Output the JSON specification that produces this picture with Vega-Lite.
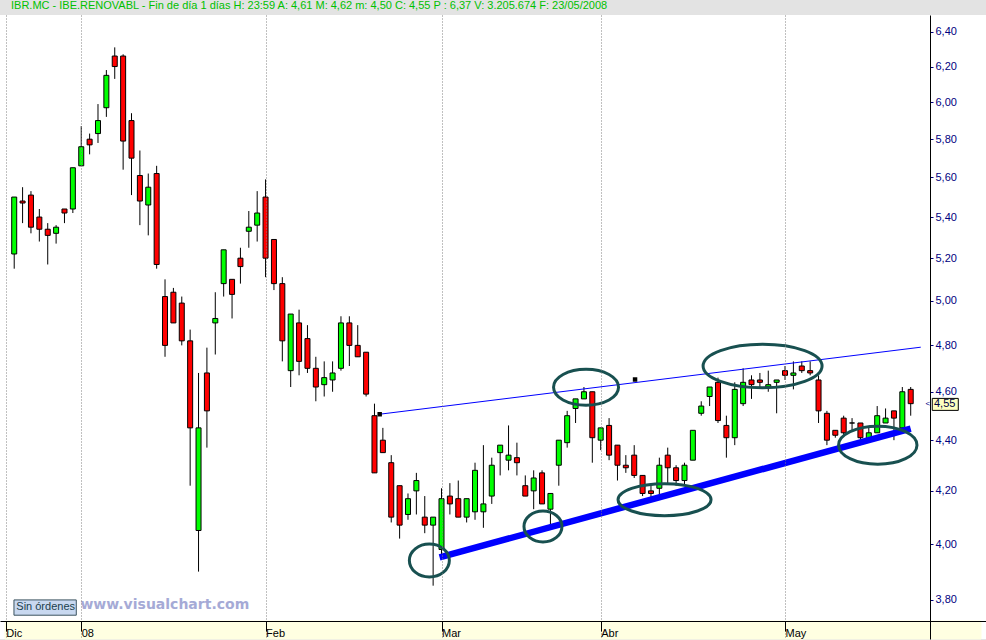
{
  "$schema": "https://vega.github.io/schema/vega-lite/v6.json",
  "width": 986,
  "height": 640,
  "autosize": {"type": "fit", "contains": "padding"},
  "padding": 0,
  "background": "#e3e3e3",
  "config": {"view": {"fill": "white", "stroke": null}},
  "title": {
    "text": "IBR.MC - IBE.RENOVABL - Fin de día 1 días  H: 23:59  A: 4,61  M: 4,62  m: 4,50  C: 4,55  P : 6,37  V: 3.205.674  F: 23/05/2008",
    "anchor": "start",
    "dx": 11,
    "color": "#00c000",
    "font": "Liberation Sans",
    "fontSize": 11,
    "fontWeight": "normal",
    "offset": 4
  },
  "datasets": {
    "notes": [
      {"k": "strip", "t": -1.099, "t2": 115.39, "v": 3.727, "v2": 3.6661},
      {"k": "box", "t": -0.03, "t2": 7.41, "v": 3.80, "v2": 3.747},
      {"k": "last", "t": 109.57, "t2": 112.68, "v": 4.572, "v2": 4.522}
    ],
    "labels": [
      {"k": "box", "label": "Sin órdenes", "t": 0.25, "v": 3.774},
      {"k": "last", "label": "4,55", "t": 109.78, "v": 4.547}
    ]
  },
  "data": {
    "values": [
      {"t":0,"o":5.22,"h":5.50,"l":5.15,"c":5.50},
      {"t":1,"o":5.48,"h":5.55,"l":5.37,"c":5.47},
      {"t":2,"o":5.51,"h":5.53,"l":5.32,"c":5.35},
      {"t":3,"o":5.40,"h":5.44,"l":5.28,"c":5.34},
      {"t":4,"o":5.34,"h":5.37,"l":5.17,"c":5.31},
      {"t":5,"o":5.32,"h":5.36,"l":5.27,"c":5.35},
      {"t":6,"o":5.44,"h":5.44,"l":5.37,"c":5.42},
      {"t":7,"o":5.44,"h":5.65,"l":5.42,"c":5.65},
      {"t":8,"o":5.66,"h":5.87,"l":5.66,"c":5.76},
      {"t":9,"o":5.80,"h":5.83,"l":5.72,"c":5.77},
      {"t":10,"o":5.83,"h":5.99,"l":5.78,"c":5.90},
      {"t":11,"o":5.97,"h":6.18,"l":5.92,"c":6.15},
      {"t":12,"o":6.26,"h":6.31,"l":6.13,"c":6.20},
      {"t":13,"o":6.26,"h":6.27,"l":5.64,"c":5.79},
      {"t":14,"o":5.90,"h":5.94,"l":5.51,"c":5.70},
      {"t":15,"o":5.61,"h":5.74,"l":5.36,"c":5.48},
      {"t":16,"o":5.46,"h":5.62,"l":5.31,"c":5.55},
      {"t":17,"o":5.62,"h":5.66,"l":5.15,"c":5.17},
      {"t":18,"o":5.02,"h":5.10,"l":4.75,"c":4.80},
      {"t":19,"o":5.04,"h":5.06,"l":4.90,"c":4.90},
      {"t":20,"o":4.99,"h":5.02,"l":4.80,"c":4.82},
      {"t":21,"o":4.82,"h":4.87,"l":4.22,"c":4.45},
      {"t":22,"o":4.05,"h":4.68,"l":3.90,"c":4.45},
      {"t":23,"o":4.68,"h":4.79,"l":4.37,"c":4.52},
      {"t":24,"o":4.90,"h":5.04,"l":4.76,"c":4.92},
      {"t":25,"o":5.08,"h":5.24,"l":5.02,"c":5.24},
      {"t":26,"o":5.10,"h":5.10,"l":4.92,"c":5.03},
      {"t":27,"o":5.20,"h":5.25,"l":5.08,"c":5.16},
      {"t":28,"o":5.33,"h":5.43,"l":5.25,"c":5.35},
      {"t":29,"o":5.36,"h":5.53,"l":5.28,"c":5.42},
      {"t":30,"o":5.50,"h":5.59,"l":5.11,"c":5.20},
      {"t":31,"o":5.29,"h":5.29,"l":5.05,"c":5.08},
      {"t":32,"o":5.08,"h":5.11,"l":4.73,"c":4.82},
      {"t":33,"o":4.69,"h":4.94,"l":4.62,"c":4.94},
      {"t":34,"o":4.90,"h":4.96,"l":4.67,"c":4.73},
      {"t":35,"o":4.83,"h":4.89,"l":4.68,"c":4.70},
      {"t":36,"o":4.70,"h":4.75,"l":4.56,"c":4.62},
      {"t":37,"o":4.63,"h":4.73,"l":4.58,"c":4.66},
      {"t":38,"o":4.65,"h":4.73,"l":4.60,"c":4.68},
      {"t":39,"o":4.70,"h":4.93,"l":4.69,"c":4.90},
      {"t":40,"o":4.90,"h":4.93,"l":4.71,"c":4.80},
      {"t":41,"o":4.80,"h":4.89,"l":4.75,"c":4.75},
      {"t":42,"o":4.77,"h":4.77,"l":4.58,"c":4.59},
      {"t":43,"o":4.50,"h":4.55,"l":4.27,"c":4.27},
      {"t":44,"o":4.40,"h":4.45,"l":4.35,"c":4.35},
      {"t":45,"o":4.31,"h":4.34,"l":4.08,"c":4.10},
      {"t":46,"o":4.22,"h":4.22,"l":4.02,"c":4.07},
      {"t":47,"o":4.11,"h":4.19,"l":4.09,"c":4.17},
      {"t":48,"o":4.20,"h":4.27,"l":4.11,"c":4.24},
      {"t":49,"o":4.10,"h":4.18,"l":4.04,"c":4.07},
      {"t":50,"o":4.07,"h":4.10,"l":3.85,"c":4.10},
      {"t":51,"o":3.98,"h":4.21,"l":3.95,"c":4.17},
      {"t":52,"o":4.18,"h":4.23,"l":4.11,"c":4.15},
      {"t":53,"o":4.17,"h":4.24,"l":4.10,"c":4.10},
      {"t":54,"o":4.10,"h":4.17,"l":4.08,"c":4.17},
      {"t":55,"o":4.12,"h":4.31,"l":4.09,"c":4.28},
      {"t":56,"o":4.12,"h":4.38,"l":4.06,"c":4.15},
      {"t":57,"o":4.18,"h":4.33,"l":4.15,"c":4.30},
      {"t":58,"o":4.35,"h":4.38,"l":4.26,"c":4.38},
      {"t":59,"o":4.32,"h":4.46,"l":4.28,"c":4.34},
      {"t":60,"o":4.33,"h":4.39,"l":4.26,"c":4.31},
      {"t":61,"o":4.22,"h":4.26,"l":4.18,"c":4.18},
      {"t":62,"o":4.20,"h":4.28,"l":4.13,"c":4.25},
      {"t":63,"o":4.27,"h":4.28,"l":4.15,"c":4.15},
      {"t":64,"o":4.13,"h":4.19,"l":4.06,"c":4.19},
      {"t":65,"o":4.30,"h":4.40,"l":4.22,"c":4.40},
      {"t":66,"o":4.39,"h":4.52,"l":4.37,"c":4.50},
      {"t":67,"o":4.53,"h":4.57,"l":4.47,"c":4.57},
      {"t":68,"o":4.57,"h":4.62,"l":4.57,"c":4.60},
      {"t":69,"o":4.60,"h":4.60,"l":4.31,"c":4.41},
      {"t":70,"o":4.40,"h":4.45,"l":4.36,"c":4.45},
      {"t":71,"o":4.46,"h":4.49,"l":4.32,"c":4.34},
      {"t":72,"o":4.38,"h":4.38,"l":4.24,"c":4.30},
      {"t":73,"o":4.30,"h":4.34,"l":4.27,"c":4.29},
      {"t":74,"o":4.34,"h":4.38,"l":4.25,"c":4.26},
      {"t":75,"o":4.26,"h":4.26,"l":4.18,"c":4.19},
      {"t":76,"o":4.20,"h":4.23,"l":4.17,"c":4.19},
      {"t":77,"o":4.21,"h":4.33,"l":4.18,"c":4.30},
      {"t":78,"o":4.34,"h":4.37,"l":4.23,"c":4.29},
      {"t":79,"o":4.29,"h":4.30,"l":4.22,"c":4.24},
      {"t":80,"o":4.24,"h":4.31,"l":4.22,"c":4.30},
      {"t":81,"o":4.32,"h":4.44,"l":4.32,"c":4.44},
      {"t":82,"o":4.51,"h":4.56,"l":4.50,"c":4.54},
      {"t":83,"o":4.58,"h":4.62,"l":4.54,"c":4.62},
      {"t":84,"o":4.64,"h":4.66,"l":4.47,"c":4.48},
      {"t":85,"o":4.46,"h":4.50,"l":4.33,"c":4.41},
      {"t":86,"o":4.41,"h":4.64,"l":4.38,"c":4.61},
      {"t":87,"o":4.55,"h":4.70,"l":4.54,"c":4.64},
      {"t":88,"o":4.65,"h":4.67,"l":4.57,"c":4.63},
      {"t":89,"o":4.65,"h":4.68,"l":4.62,"c":4.64},
      {"t":90,"o":4.62,"h":4.69,"l":4.60,"c":4.63},
      {"t":91,"o":4.64,"h":4.65,"l":4.51,"c":4.65},
      {"t":92,"o":4.69,"h":4.71,"l":4.65,"c":4.67},
      {"t":93,"o":4.67,"h":4.73,"l":4.61,"c":4.68},
      {"t":94,"o":4.71,"h":4.73,"l":4.68,"c":4.69},
      {"t":95,"o":4.69,"h":4.73,"l":4.67,"c":4.68},
      {"t":96,"o":4.65,"h":4.67,"l":4.47,"c":4.52},
      {"t":97,"o":4.51,"h":4.52,"l":4.38,"c":4.40},
      {"t":98,"o":4.44,"h":4.44,"l":4.41,"c":4.42},
      {"t":99,"o":4.49,"h":4.50,"l":4.42,"c":4.43},
      {"t":100,"o":4.47,"h":4.49,"l":4.44,"c":4.47},
      {"t":101,"o":4.47,"h":4.47,"l":4.38,"c":4.41},
      {"t":102,"o":4.40,"h":4.45,"l":4.39,"c":4.43},
      {"t":103,"o":4.43,"h":4.54,"l":4.43,"c":4.50},
      {"t":104,"o":4.47,"h":4.53,"l":4.47,"c":4.49},
      {"t":105,"o":4.52,"h":4.52,"l":4.40,"c":4.49},
      {"t":106,"o":4.45,"h":4.62,"l":4.43,"c":4.60},
      {"t":107,"o":4.61,"h":4.62,"l":4.50,"c":4.55}
    ]
  },
  "encoding": {
    "x": {
      "field": "t",
      "type": "quantitative",
      "scale": {"domain": [-1.099, 115.39], "nice": false, "zero": false},
      "axis": {
        "title": null,
        "orient": "bottom",
        "offset": -18,
        "values": [-1, 8, 30, 51, 70, 92],
        "labelExpr": "datum.value == -1 ? 'Dic' : datum.value == 8 ? '08' : datum.value == 30 ? 'Feb' : datum.value == 51 ? 'Mar' : datum.value == 70 ? 'Abr' : 'May'",
        "grid": true,
        "gridColor": "#808080",
        "gridDash": [1, 2],
        "gridWidth": 1,
        "domainColor": "black",
        "tickColor": "black",
        "tickSize": 10,
        "labelAlign": "left",
        "labelBaseline": "top",
        "labelDx": 2,
        "labelPadding": -4,
        "labelColor": "black",
        "labelFont": "Liberation Sans",
        "labelFontSize": 11,
        "labelFlush": false,
        "labelOverlap": false,
        "zindex": 1
      }
    }
  },
  "layer": [
    {
      "mark": {"type": "rule", "color": "black", "strokeWidth": 1},
      "encoding": {
        "y": {
          "field": "h",
          "type": "quantitative",
          "scale": {"type": "log", "domain": [3.6661, 6.5003], "nice": false, "zero": false},
          "axis": {
            "title": null,
            "orient": "right",
            "offset": -56,
            "values": [3.8, 4.0, 4.2, 4.4, 4.6, 4.8, 5.0, 5.2, 5.4, 5.6, 5.8, 6.0, 6.2, 6.4],
            "labelExpr": "replace(format(datum.value, '.2f'), '.', ',')",
            "grid": false,
            "tickSize": 3,
            "tickColor": "#000080",
            "domainColor": "black",
            "labelColor": "#000080",
            "labelFont": "Liberation Sans",
            "labelFontSize": 11,
            "labelPadding": 2,
            "labelFlush": false,
            "labelOverlap": false,
            "zindex": 1
          }
        },
        "y2": {"field": "l"}
      }
    },
    {
      "mark": {"type": "bar", "size": 5, "stroke": "black", "strokeWidth": 1},
      "encoding": {
        "y": {"field": "o", "type": "quantitative", "scale": {"type": "log", "domain": [3.6661, 6.5003], "nice": false, "zero": false}},
        "y2": {"field": "c"},
        "color": {"condition": {"test": "datum.c >= datum.o", "value": "#00ff00"}, "value": "#ff0000"}
      }
    },
    {
      "data": {"values": [{"t": 43.6, "v": 4.506}, {"t": 108.2, "v": 4.792}]},
      "mark": {"type": "line", "color": "#0000ff", "strokeWidth": 1},
      "encoding": {
        "y": {"field": "v", "type": "quantitative", "scale": {"type": "log", "domain": [3.6661, 6.5003], "nice": false, "zero": false}}
      }
    },
    {
      "data": {"values": [{"t": 50.77, "v": 3.951}, {"t": 107.0, "v": 4.447}]},
      "mark": {"type": "line", "color": "#0000ff", "strokeWidth": 6.5, "strokeCap": "butt"},
      "encoding": {
        "y": {"field": "v", "type": "quantitative", "scale": {"type": "log", "domain": [3.6661, 6.5003], "nice": false, "zero": false}}
      }
    },
    {
      "data": {"values": [{"t": 43.62, "v": 4.506}, {"t": 74.1, "v": 4.652}]},
      "mark": {"type": "point", "shape": "square", "filled": true, "color": "black", "size": 20, "opacity": 1},
      "encoding": {
        "y": {"field": "v", "type": "quantitative", "scale": {"type": "log", "domain": [3.6661, 6.5003], "nice": false, "zero": false}}
      }
    },
    {
      "data": {"values": [
        {"e": "E1", "t": 49.55, "v": 3.940},
        {"e": "E2", "t": 63.11, "v": 4.065},
        {"e": "E3", "t": 68.25, "v": 4.619},
        {"e": "E4", "t": 77.62, "v": 4.166},
        {"e": "E5", "t": 89.32, "v": 4.710},
        {"e": "E6", "t": 103.07, "v": 4.380}
      ]},
      "mark": {"type": "point", "filled": false, "color": "#185050", "strokeWidth": 3, "size": 16900, "opacity": 1},
      "encoding": {
        "y": {"field": "v", "type": "quantitative", "scale": {"type": "log", "domain": [3.6661, 6.5003], "nice": false, "zero": false}},
        "shape": {
          "field": "e",
          "type": "nominal",
          "legend": null,
          "scale": {
            "domain": ["E1", "E2", "E3", "E4", "E5", "E6"],
            "range": [
              "M0.3077,0C0.3077,0.1402,0.1699,0.2538,0,0.2538C-0.1699,0.2538,-0.3077,0.1402,-0.3077,0C-0.3077,-0.1402,-0.1699,-0.2538,0,-0.2538C0.1699,-0.2538,0.3077,-0.1402,0.3077,0Z",
              "M0.2923,0C0.2923,0.1317,0.1614,0.2385,0,0.2385C-0.1614,0.2385,-0.2923,0.1317,-0.2923,0C-0.2923,-0.1317,-0.1614,-0.2385,0,-0.2385C0.1614,-0.2385,0.2923,-0.1317,0.2923,0Z",
              "M0.5,0C0.5,0.1529,0.2762,0.2769,0,0.2769C-0.2762,0.2769,-0.5,0.1529,-0.5,0C-0.5,-0.1529,-0.2762,-0.2769,0,-0.2769C0.2762,-0.2769,0.5,-0.1529,0.5,0Z",
              "M0.7154,0C0.7154,0.136,0.3951,0.2462,0,0.2462C-0.3951,0.2462,-0.7154,0.136,-0.7154,0C-0.7154,-0.136,-0.3951,-0.2462,0,-0.2462C0.3951,-0.2462,0.7154,-0.136,0.7154,0Z",
              "M0.9154,0C0.9154,0.1852,0.5056,0.3354,0,0.3354C-0.5056,0.3354,-0.9154,0.1852,-0.9154,0C-0.9154,-0.1852,-0.5056,-0.3354,0,-0.3354C0.5056,-0.3354,0.9154,-0.1852,0.9154,0Z",
              "M0.6031,0C0.6031,0.1614,0.3331,0.2923,0,0.2923C-0.3331,0.2923,-0.6031,0.1614,-0.6031,0C-0.6031,-0.1614,-0.3331,-0.2923,0,-0.2923C0.3331,-0.2923,0.6031,-0.1614,0.6031,0Z"
            ]
          }
        }
      }
    },
    {
      "data": {"name": "notes"},
      "mark": {"type": "rect", "strokeWidth": 1},
      "encoding": {
        "x2": {"field": "t2"},
        "y": {"field": "v", "type": "quantitative", "scale": {"type": "log", "domain": [3.6661, 6.5003], "nice": false, "zero": false}},
        "y2": {"field": "v2"},
        "fill": {"field": "k", "type": "nominal", "legend": null, "scale": {"domain": ["strip", "box", "last"], "range": ["#ffffe1", "#c8d8f0", "#ffffc0"]}},
        "stroke": {"field": "k", "type": "nominal", "legend": null, "scale": {"domain": ["strip", "box", "last"], "range": ["#ffffe1", "#3c5460", "#000000"]}}
      }
    },
    {
      "data": {"name": "labels"},
      "mark": {"type": "text", "align": "left", "baseline": "middle", "font": "Liberation Sans", "fontSize": 11},
      "encoding": {
        "y": {"field": "v", "type": "quantitative", "scale": {"type": "log", "domain": [3.6661, 6.5003], "nice": false, "zero": false}},
        "text": {"field": "label"},
        "color": {"field": "k", "type": "nominal", "legend": null, "scale": {"domain": ["box", "last"], "range": ["#20404c", "#000040"]}}
      }
    },
    {
      "data": {"values": [{"label": "www.visualchart.com", "t": 7.9, "v": 3.783}]},
      "mark": {"type": "text", "align": "left", "baseline": "middle", "font": "DejaVu Sans", "fontWeight": "bold", "fontSize": 14, "color": "#a5aad6"},
      "encoding": {
        "y": {"field": "v", "type": "quantitative", "scale": {"type": "log", "domain": [3.6661, 6.5003], "nice": false, "zero": false}},
        "text": {"field": "label"}
      }
    },
    {
      "data": {"values": [{"label": "<", "t": 109.05, "v": 4.547}]},
      "mark": {"type": "text", "align": "center", "baseline": "middle", "font": "Liberation Sans", "fontSize": 8, "color": "#000080"},
      "encoding": {
        "y": {"field": "v", "type": "quantitative", "scale": {"type": "log", "domain": [3.6661, 6.5003], "nice": false, "zero": false}},
        "text": {"field": "label"}
      }
    }
  ]
}
